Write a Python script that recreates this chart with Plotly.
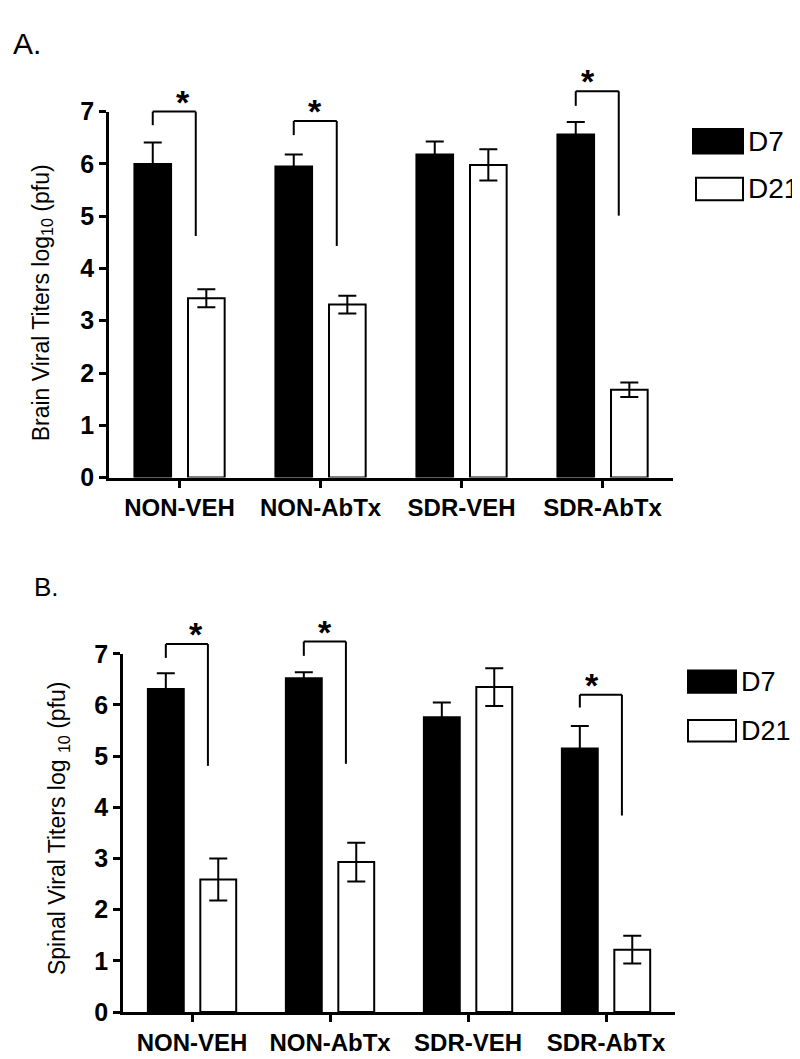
import plotly.graph_objects as go

groups = ["NON-VEH", "NON-AbTx", "SDR-VEH", "SDR-AbTx"]
series = ["D7", "D21"]

# Panel A: brain viral titers
brain_d7 = [6.00, 5.95, 6.18, 6.56]
brain_d7_err = [0.41, 0.23, 0.25, 0.24]
brain_d21 = [3.43, 3.31, 5.98, 1.68]
brain_d21_err = [0.17, 0.17, 0.30, 0.14]

# Panel B: spinal viral titers
spinal_d7 = [6.31, 6.52, 5.76, 5.15]
spinal_d7_err = [0.31, 0.12, 0.29, 0.44]
spinal_d21 = [2.59, 2.93, 6.35, 1.22]
spinal_d21_err = [0.41, 0.38, 0.37, 0.27]

# significance brackets: group index, left-arm bottom, top, right-arm bottom
brain_sig_group = [0, 1, 3]
brain_sig_left = [6.74, 6.55, 7.11]
brain_sig_top = [7.00, 6.82, 7.39]
brain_sig_right = [4.62, 4.43, 5.01]

spinal_sig_group = [0, 1, 3]
spinal_sig_left = [6.92, 6.96, 5.95]
spinal_sig_top = [7.19, 7.24, 6.20]
spinal_sig_right = [4.81, 4.85, 3.84]

FONT = "Liberation Sans, Arial, sans-serif"
OFF = 0.19
BW = 0.26
XR = [-0.5, 3.5]
YR = [0, 7]
XDOM_A = [0.1263, 0.8313]
YDOM_A = [0.5581, 0.9131]
XDOM_B = [0.1438, 0.8338]
YDOM_B = [0.0397, 0.3872]


def to_paper(v, dom, rng):
    # same linear mapping the axis uses (kept in paper space so marks above the range are not clipped)
    return dom[0] + (v - rng[0]) / (rng[1] - rng[0]) * (dom[1] - dom[0])


fig = go.Figure()

panels = [
    dict(xa="x", ya="y", xd=XDOM_A, yd=YDOM_A, d7=brain_d7, d7e=brain_d7_err, d21=brain_d21,
         d21e=brain_d21_err, sg=brain_sig_group, sl=brain_sig_left, st=brain_sig_top, sr=brain_sig_right),
    dict(xa="x2", ya="y2", xd=XDOM_B, yd=YDOM_B, d7=spinal_d7, d7e=spinal_d7_err, d21=spinal_d21,
         d21e=spinal_d21_err, sg=spinal_sig_group, sl=spinal_sig_left, st=spinal_sig_top, sr=spinal_sig_right),
]

shapes = []
annotations = []
for p in panels:
    xs = list(range(len(groups)))
    fig.add_trace(go.Bar(
        x=[i - OFF for i in xs], y=p["d7"], width=BW, name=series[0],
        xaxis=p["xa"], yaxis=p["ya"], showlegend=False,
        marker=dict(color="black", line=dict(color="black", width=2)),
        error_y=dict(type="data", array=p["d7e"], color="black", thickness=2, width=9),
    ))
    fig.add_trace(go.Bar(
        x=[i + OFF for i in xs], y=p["d21"], width=BW, name=series[1],
        xaxis=p["xa"], yaxis=p["ya"], showlegend=False,
        marker=dict(color="white", line=dict(color="black", width=2)),
        error_y=dict(type="data", array=p["d21e"], color="black", thickness=2, width=9),
    ))
    for g, lb, tp, rb in zip(p["sg"], p["sl"], p["st"], p["sr"]):
        xl = to_paper(g - OFF, p["xd"], XR)
        xr = to_paper(g + 0.115, p["xd"], XR)
        ylb = to_paper(lb, p["yd"], YR)
        ytp = to_paper(tp, p["yd"], YR)
        yrb = to_paper(rb, p["yd"], YR)
        for (x0, y0, x1, y1) in [(xl, ylb, xl, ytp), (xl, ytp, xr, ytp), (xr, ytp, xr, yrb)]:
            shapes.append(dict(type="line", xref="paper", yref="paper", x0=x0, y0=y0, x1=x1, y1=y1,
                               line=dict(color="black", width=2), layer="above"))
        annotations.append(dict(xref="paper", yref="paper", x=(xl + xr) / 2, y=ytp, text="*",
                                showarrow=False, yanchor="bottom", yshift=-11,
                                font=dict(family=FONT, size=34, color="black", weight="bold")))

axis_common = dict(showline=True, linewidth=3, linecolor="black", ticks="outside",
                   ticklen=7, tickwidth=3, tickcolor="black", showgrid=False, zeroline=False)
xtick_font = dict(family=FONT, size=24, color="black", weight="bold")
ytick_font = dict(family=FONT, size=25, color="black", weight="bold")

fig.update_layout(
    width=800, height=1059,
    margin=dict(l=0, r=0, t=0, b=0),
    paper_bgcolor="white", plot_bgcolor="white",
    barmode="overlay",
    showlegend=False,
    xaxis=dict(domain=XDOM_A, range=XR, anchor="y", tickvals=[0, 1, 2, 3], ticktext=groups,
               tickfont=xtick_font, **axis_common),
    yaxis=dict(domain=YDOM_A, range=YR, anchor="x", tickvals=[0, 1, 2, 3, 4, 5, 6, 7],
               tickfont=ytick_font, **axis_common),
    xaxis2=dict(domain=XDOM_B, range=XR, anchor="y2", tickvals=[0, 1, 2, 3], ticktext=groups,
                tickfont=xtick_font, **axis_common),
    yaxis2=dict(domain=YDOM_B, range=YR, anchor="x2", tickvals=[0, 1, 2, 3, 4, 5, 6, 7],
                tickfont=ytick_font, **axis_common),
)

# axis titles
annotations.append(dict(xref="paper", yref="paper", x=34 / 800, y=1 - 289 / 1059,
                        text="Brain Viral Titers log<sub>10</sub> (pfu)", textangle=-90,
                        showarrow=False, xanchor="center", yanchor="middle",
                        font=dict(family=FONT, size=23, color="black")))
annotations.append(dict(xref="paper", yref="paper", x=50 / 800, y=1 - 828 / 1059,
                        text="Spinal Viral Titers log <sub>10</sub> (pfu)", textangle=-90,
                        showarrow=False, xanchor="center", yanchor="middle",
                        font=dict(family=FONT, size=23, color="black")))
# panel letters
annotations.append(dict(xref="paper", yref="paper", x=3 / 800, y=1 - 22 / 1059, text="A.",
                        showarrow=False, xanchor="left", yanchor="middle",
                        font=dict(family=FONT, size=30, color="black")))
annotations.append(dict(xref="paper", yref="paper", x=24 / 800, y=1 - 580 / 1059, text="B.",
                        showarrow=False, xanchor="left", yanchor="middle",
                        font=dict(family=FONT, size=26, color="black")))

# manual legends
legend_boxes = [
    # (x0, x1, y0, y1) pixels, fill, label, text x, font size
    (685, 735, 110, 135, "black", series[0], 738, 28),
    (688, 735, 160, 183, "white", series[1], 738, 28),
    (680, 728, 666, 689, "black", series[0], 731, 27),
    (680, 728, 717, 739, "white", series[1], 731, 27),
]
for x0, x1, y0, y1, fill, lab, tx, fs in legend_boxes:
    shapes.append(dict(type="rect", xref="paper", yref="paper",
                       x0=x0 / 800, x1=x1 / 800, y0=1 - y0 / 1059, y1=1 - y1 / 1059,
                       fillcolor=fill, line=dict(color="black", width=2)))
    annotations.append(dict(xref="paper", yref="paper", x=tx / 800, y=1 - (y0 + y1) / 2 / 1059,
                            text=lab, showarrow=False, xanchor="left", yanchor="middle",
                            font=dict(family=FONT, size=fs, color="black")))

fig.update_layout(shapes=shapes, annotations=annotations)
fig.write_html("out.html")
